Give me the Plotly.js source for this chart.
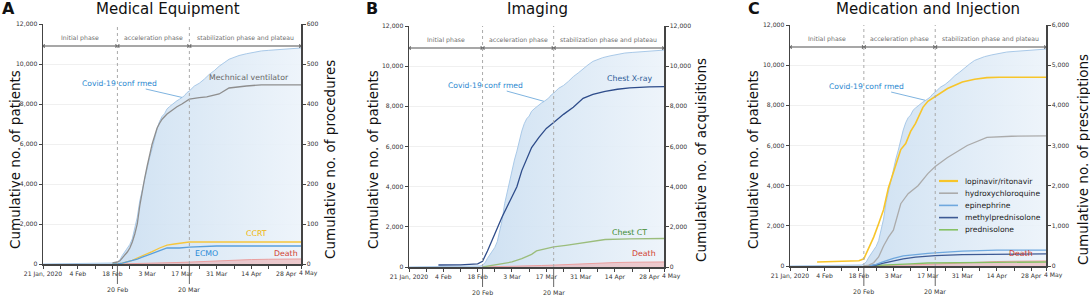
<!DOCTYPE html>
<html>
<head>
<meta charset="utf-8">
<script src="https://cdn.plot.ly/plotly-3.0.1.min.js"></script>
<style>html,body{margin:0;padding:0;background:#fff;}#chart{width:1090px;height:295px;}</style>
</head>
<body>
<div id="chart"></div>
<script>
// ---------------- DATA ----------------
const confirmedDates = ['2020-01-21','2020-02-04','2020-02-18','2020-02-19','2020-02-20','2020-02-21','2020-02-22','2020-02-23','2020-02-24','2020-02-25','2020-02-26','2020-02-27','2020-02-28','2020-02-29','2020-03-01','2020-03-02','2020-03-03','2020-03-04','2020-03-05','2020-03-06','2020-03-07','2020-03-08','2020-03-09','2020-03-10','2020-03-11','2020-03-12','2020-03-13','2020-03-14','2020-03-15','2020-03-16','2020-03-17','2020-03-18','2020-03-19','2020-03-20','2020-03-22','2020-03-24','2020-03-26','2020-03-28','2020-03-30','2020-04-01','2020-04-03','2020-04-05','2020-04-07','2020-04-09','2020-04-12','2020-04-15','2020-04-18','2020-04-21','2020-04-24','2020-04-27','2020-04-30','2020-05-04'];
const confirmedCases = [1,16,31,51,104,204,433,602,833,977,1261,1766,2337,3150,3736,4212,4812,5328,5766,6284,6767,7134,7382,7513,7755,7869,7979,8086,8162,8236,8320,8413,8565,8652,8897,9037,9241,9478,9661,9887,10062,10237,10331,10423,10512,10591,10653,10683,10708,10738,10765,10801];

const deathDates = ['2020-02-20','2020-02-25','2020-03-01','2020-03-05','2020-03-10','2020-03-15','2020-03-20','2020-03-25','2020-03-31','2020-04-07','2020-04-14','2020-04-21','2020-04-28','2020-05-04'];
const deaths = [1,10,17,35,54,75,94,126,162,192,222,237,246,252];

// Panel A (procedures)
const ventDates = ['2020-02-18','2020-02-19','2020-02-20','2020-02-21','2020-02-22','2020-02-23','2020-02-24','2020-02-25','2020-02-26','2020-02-27','2020-02-28','2020-02-29','2020-03-01','2020-03-02','2020-03-03','2020-03-04','2020-03-05','2020-03-06','2020-03-07','2020-03-08','2020-03-09','2020-03-11','2020-03-13','2020-03-15','2020-03-17','2020-03-20','2020-03-24','2020-03-27','2020-04-01','2020-04-05','2020-04-12','2020-04-18','2020-04-28','2020-05-04'];
const ventilator = [3,4,5,8,15,22,30,40,55,75,100,145,185,215,245,275,300,320,340,352,362,375,385,393,400,412,416,418,425,440,445,448,448,448];
const ccrtDates = ['2020-02-18','2020-02-20','2020-02-22','2020-02-24','2020-02-26','2020-02-28','2020-03-01','2020-03-03','2020-03-05','2020-03-08','2020-03-11','2020-03-14','2020-03-16','2020-03-20','2020-03-31','2020-04-14','2020-05-04'];
const ccrt = [0,0,2,5,9,15,20,25,31,40,47,50,52,55,55,55,55];
const ecmoDates = ['2020-02-18','2020-02-20','2020-02-22','2020-02-24','2020-02-26','2020-02-28','2020-03-01','2020-03-03','2020-03-05','2020-03-08','2020-03-11','2020-03-16','2020-03-20','2020-03-31','2020-04-14','2020-05-04'];
const ecmo = [0,0,2,5,8,12,17,22,27,33,40,40,42,45,45,45];

// Panel B (acquisitions)
const xrayDates = ['2020-02-02','2020-02-11','2020-02-18','2020-02-20','2020-02-22','2020-02-24','2020-02-26','2020-02-28','2020-03-01','2020-03-03','2020-03-05','2020-03-07','2020-03-09','2020-03-11','2020-03-14','2020-03-17','2020-03-20','2020-03-24','2020-03-28','2020-04-01','2020-04-05','2020-04-10','2020-04-15','2020-04-20','2020-04-28','2020-05-04'];
const xray = [100,110,160,280,800,1400,1900,2500,3000,3500,4000,4800,5400,5950,6450,6900,7200,7600,7950,8400,8600,8750,8850,8920,8970,8980];
const ctDates = ['2020-02-20','2020-02-24','2020-02-28','2020-03-03','2020-03-07','2020-03-11','2020-03-13','2020-03-16','2020-03-20','2020-03-25','2020-03-31','2020-04-05','2020-04-10','2020-04-20','2020-05-04'];
const chestCT = [0,80,170,250,420,630,800,900,1000,1080,1200,1300,1370,1400,1420];

// Panel C (prescriptions)
const lopDates = ['2020-02-01','2020-02-04','2020-02-11','2020-02-18','2020-02-20','2020-02-22','2020-02-24','2020-02-26','2020-02-28','2020-03-01','2020-03-03','2020-03-05','2020-03-06','2020-03-08','2020-03-10','2020-03-12','2020-03-15','2020-03-17','2020-03-20','2020-03-25','2020-03-31','2020-04-05','2020-04-10','2020-04-15','2020-05-04'];
const lopinavir = [100,105,115,130,180,450,720,1050,1400,1950,2350,2750,2900,3050,3350,3550,3950,4100,4220,4420,4580,4650,4690,4700,4700];
const hcqDates = ['2020-02-20','2020-02-22','2020-02-24','2020-02-26','2020-02-28','2020-03-01','2020-03-03','2020-03-06','2020-03-09','2020-03-13','2020-03-17','2020-03-20','2020-03-25','2020-03-30','2020-04-02','2020-04-10','2020-04-20','2020-05-04'];
const hydroxychloroquine = [0,20,80,225,500,720,890,1550,1800,2000,2300,2475,2700,2900,3000,3200,3230,3240];
const epiDates = ['2020-02-22','2020-02-25','2020-02-28','2020-03-03','2020-03-07','2020-03-12','2020-03-17','2020-03-20','2020-03-31','2020-04-14','2020-05-04'];
const epinephrine = [0,40,110,190,250,290,315,325,370,395,395];
const mpDates = ['2020-02-22','2020-02-25','2020-02-28','2020-03-03','2020-03-07','2020-03-12','2020-03-17','2020-03-20','2020-03-31','2020-04-14','2020-05-04'];
const methylprednisolone = [0,25,70,125,180,220,250,258,285,298,300];
const pdDates = ['2020-02-20','2020-02-25','2020-03-03','2020-03-10','2020-03-17','2020-03-31','2020-04-14','2020-05-04'];
const prednisolone = [0,10,30,55,75,85,95,100];

// Axes / ticks
const xStart = '2020-01-21', xEnd = '2020-05-04';
const xTickVals = ['2020-01-21','2020-01-28','2020-02-04','2020-02-11','2020-02-18','2020-02-25','2020-03-03','2020-03-10','2020-03-17','2020-03-24','2020-03-31','2020-04-07','2020-04-14','2020-04-21','2020-04-28','2020-05-04'];
const xTickText = ['21 Jan, 2020','','4 Feb','','18 Feb','','3 Mar','','17 Mar','','31 Mar','','14 Apr','','28 Apr',''];
const endTickLabel = '4 May';
const phaseBounds = ['2020-02-20','2020-03-20'];
const phaseBoundLabels = ['20 Feb','20 Mar'];
const phaseNames = ['Initial phase','acceleration phase','stabilization phase and plateau'];
const leftTicks = [0,2000,4000,6000,8000,10000,12000];
const rightTicksA = [0,100,200,300,400,500,600];
const rightTicksB = [0,2000,4000,6000,8000,10000,12000];
const rightTicksC = [0,1000,2000,3000,4000,5000,6000];

// ---------------- LAYOUT HELPERS ----------------
const W = 1090, H = 295;
const PX = p => p / W;
const PY = p => 1 - p / H;
const FONT = 'DejaVu Sans, Verdana, sans-serif';
const fmt = v => v.toLocaleString('en-US');

const panels = [
  {x:'x', y:'y', y2:'y2', xa:'xaxis', ya:'yaxis', ya2:'yaxis2', left:43, right:301, top:24, bottom:264,
   rTicks:rightTicksA, rMax:600, letter:'A', letterX:8, title:'Medical Equipment', titleX:168,
   lTitleX:15, rTitleX:330, rTitle:'Cumulative no. of procedures', covX:'2020-02-21', covY:9050, covPt:['2020-03-17',8330]},
  {x:'x2', y:'y3', y2:'y4', xa:'xaxis2', ya:'yaxis3', ya2:'yaxis4', left:409, right:664, top:26, bottom:267,
   rTicks:rightTicksB, rMax:12000, letter:'B', letterX:372, title:'Imaging', titleX:537,
   lTitleX:373, rTitleX:701, rTitle:'Cumulative no. of acquisitions', covX:'2020-02-21', covY:9060, covPt:['2020-03-16',8250]},
  {x:'x3', y:'y5', y2:'y6', xa:'xaxis3', ya:'yaxis5', ya2:'yaxis6', left:790, right:1046, top:25, bottom:266,
   rTicks:rightTicksC, rMax:6000, letter:'C', letterX:754, title:'Medication and Injection', titleX:928,
   lTitleX:753, rTitleX:1083, rTitle:'Cumulative no. of prescriptions', covX:'2020-02-21', covY:8960, covPt:['2020-03-16',8250]}
];

const traces = [];
const layout = {
  width: W, height: H, margin:{l:0,r:0,t:0,b:0},
  paper_bgcolor:'#ffffff', plot_bgcolor:'rgba(0,0,0,0)',
  showlegend:false, font:{family:FONT, color:'#333'},
  shapes:[], annotations:[]
};

function addHours(d, h){ const t = new Date(d+'T00:00:00Z'); t.setUTCHours(t.getUTCHours()+h); return t.toISOString().slice(0,16).replace('T',' '); }
function midDate(a, b){ const ta = Date.parse(a+'T00:00:00Z'), tb = Date.parse(b+'T00:00:00Z'); return new Date((ta+tb)/2).toISOString().slice(0,16).replace('T',' '); }

panels.forEach((p, i) => {
  const tickFont = {family:FONT, size:6.1, color:'#333'};
  layout[p.xa] = {
    domain:[PX(p.left), PX(p.right)], anchor:p.y, type:'date', range:[xStart, xEnd], tickangle:0, automargin:false,
    tickmode:'array', tickvals:xTickVals, ticktext:xTickText, ticks:'outside', ticklen:3, tickwidth:1, tickcolor:'#444',
    showline:true, linecolor:'#444', linewidth:1.5, showgrid:false, zeroline:false, tickfont:tickFont, fixedrange:true
  };
  layout[p.ya] = {
    domain:[PY(p.bottom), PY(p.top)], anchor:p.x, range:[0,12000], automargin:false,
    tickmode:'array', tickvals:leftTicks, ticktext:leftTicks.map(fmt), ticks:'outside', ticklen:3, tickwidth:1, tickcolor:'#444',
    showline:true, linecolor:'#444', linewidth:1.5, showgrid:true, gridcolor:'#f0f0f0', gridwidth:1, zeroline:false, tickfont:tickFont
  };
  layout[p.ya2] = {
    overlaying:p.y, side:'right', anchor:p.x, range:[0,p.rMax], automargin:false,
    tickmode:'array', tickvals:p.rTicks, ticktext:p.rTicks.map(fmt), ticks:'outside', ticklen:3, tickwidth:1, tickcolor:'#444',
    showline:true, linecolor:'#444', linewidth:1.5, showgrid:false, zeroline:false, tickfont:tickFont
  };
  // end-of-axis label (4 May), placed just right of the 28 Apr label
  layout.annotations.push({xref:p.x, yref:'paper', x:xEnd, y:PY(p.bottom+9), text:endTickLabel, showarrow:false,
    font:tickFont, xanchor:'left', yanchor:'middle', xshift:-4});

  // confirmed cases area
  traces.push({
    type:'scatter', mode:'lines', x:confirmedDates, y:confirmedCases, xaxis:p.x, yaxis:p.y,
    line:{color:'#a9c9e8', width:1}, fill:'tozeroy', fillcolor:'rgba(205,223,240,0.8)',
    fillgradient:{type:'horizontal', colorscale:[[0,'rgba(190,214,238,0.95)'],[0.45,'rgba(210,227,243,0.9)'],[1,'rgba(236,243,250,0.9)']]},
    hoverinfo:'skip'
  });
  // deaths area
  traces.push({
    type:'scatter', mode:'lines', x:deathDates, y:deaths, xaxis:p.x, yaxis:p.y,
    line:{color:'#eaa0a0', width:1}, fill:'tozeroy', fillcolor:'rgba(238,150,150,0.45)', hoverinfo:'skip'
  });

  // dashed phase boundaries
  phaseBounds.forEach((d, k) => {
    layout.shapes.push({type:'line', xref:p.x, yref:p.y, x0:d, x1:d, y0:0, y1:12000, line:{color:'#aaaaaa', width:1, dash:'dot'}});
    layout.shapes.push({type:'line', xref:p.x, yref:'paper', x0:d, x1:d, y0:PY(p.bottom+2), y1:PY(p.bottom+20), line:{color:'#666', width:1}});
    layout.annotations.push({xref:p.x, yref:'paper', x:d, y:PY(p.bottom+25), text:phaseBoundLabels[k], showarrow:false,
      font:{family:FONT, size:6.3, color:'#333'}, xanchor:'center', yanchor:'middle', bgcolor:'#ffffff'});
  });
  // phase bar
  layout.shapes.push({type:'line', xref:p.x, yref:p.y, x0:xStart, x1:xEnd, y0:10900, y1:10900, line:{color:'#8a8a8a', width:1.5}});
  const mx = [], ms = [];
  mx.push(addHours(xStart, 8)); ms.push('triangle-left');
  phaseBounds.forEach(d => { mx.push(addHours(d,-10)); ms.push('triangle-right'); mx.push(addHours(d,10)); ms.push('triangle-left'); });
  mx.push(addHours(xEnd, -8)); ms.push('triangle-right');
  traces.push({type:'scatter', mode:'markers', x:mx, y:mx.map(()=>10900), xaxis:p.x, yaxis:p.y,
    marker:{symbol:ms, size:3.5, color:'#222'}, hoverinfo:'skip'});
  const edges = [xStart].concat(phaseBounds, [xEnd]);
  phaseNames.forEach((n, k) => {
    layout.annotations.push({xref:p.x, yref:p.y, x:midDate(edges[k], edges[k+1]), y:11280, text:n, showarrow:false,
      font:{family:FONT, size:6.2, color:'#707070'}, xanchor:'center', yanchor:'middle'});
  });

  // titles & letters
  layout.annotations.push({xref:'paper', yref:'paper', x:PX(p.letterX), y:PY(9), text:'<b>'+p.letter+'</b>', showarrow:false,
    font:{family:FONT, size:16, color:'#111'}, xanchor:'center', yanchor:'middle'});
  layout.annotations.push({xref:'paper', yref:'paper', x:PX(p.titleX), y:PY(9), text:p.title, showarrow:false,
    font:{family:FONT, size:15, color:'#111'}, xanchor:'center', yanchor:'middle'});
  layout.annotations.push({xref:'paper', yref:'paper', x:PX(p.lTitleX), y:PY(160), text:'Cumulative no. of patients', textangle:-90, showarrow:false,
    font:{family:FONT, size:13.5, color:'#111'}, xanchor:'center', yanchor:'middle'});
  layout.annotations.push({xref:'paper', yref:'paper', x:PX(p.rTitleX), y:PY(160), text:p.rTitle, textangle:-90, showarrow:false,
    font:{family:FONT, size:13.5, color:'#111'}, xanchor:'center', yanchor:'middle'});

  // covid annotation with leader line
  layout.annotations.push({xref:p.x, yref:p.y, x:p.covPt[0], y:p.covPt[1], axref:p.x, ayref:p.y, ax:p.covX, ay:p.covY,
    text:'Covid-19 conf rmed', showarrow:true, arrowhead:0, arrowwidth:1, arrowcolor:'#7fb4e0',
    font:{family:FONT, size:7.6, color:'#2a88cf'}, standoff:0, startstandoff:0});
});

// ---- Panel A series ----
const lw = 1.3;
traces.push({type:'scatter', mode:'lines', x:ventDates, y:ventilator, xaxis:'x', yaxis:'y2', line:{color:'#8e8e8e', width:lw}});
traces.push({type:'scatter', mode:'lines', x:ccrtDates, y:ccrt, xaxis:'x', yaxis:'y2', line:{color:'#f6c63c', width:lw}});
traces.push({type:'scatter', mode:'lines', x:ecmoDates, y:ecmo, xaxis:'x', yaxis:'y2', line:{color:'#5a9fdb', width:lw}});
const labA = [
  ['Mechnical ventilator','2020-04-13',9330,'#666'],
  ['CCRT','2020-04-16',1520,'#f0b400'],
  ['ECMO','2020-03-27',520,'#2a8ad6'],
  ['Death','2020-04-28',520,'#d13a2c']
];
labA.forEach(l => layout.annotations.push({xref:'x', yref:'y', x:l[1], y:l[2], text:l[0], showarrow:false,
  font:{family:FONT, size:7.8, color:l[3]}, xanchor:'center', yanchor:'middle'}));

// ---- Panel B series ----
traces.push({type:'scatter', mode:'lines', x:ctDates, y:chestCT, xaxis:'x2', yaxis:'y4', line:{color:'#9bbd7c', width:lw}});
traces.push({type:'scatter', mode:'lines', x:xrayDates, y:xray, xaxis:'x2', yaxis:'y4', line:{color:'#2e4c8a', width:lw}});
const labB = [
  ['Chest X-ray','2020-04-20',9400,'#2b5a96'],
  ['Chest CT','2020-04-20',1740,'#3a8a2c'],
  ['Death','2020-04-26',650,'#d13a2c']
];
labB.forEach(l => layout.annotations.push({xref:'x2', yref:'y3', x:l[1], y:l[2], text:l[0], showarrow:false,
  font:{family:FONT, size:7.8, color:l[3]}, xanchor:'center', yanchor:'middle'}));

// ---- Panel C series ----
const seriesC = [
  {name:'lopinavir/ritonavir', x:lopDates, y:lopinavir, color:'#f7c52a', w:1.6},
  {name:'hydroxychloroquine', x:hcqDates, y:hydroxychloroquine, color:'#ababab', w:lw},
  {name:'epinephrine', x:epiDates, y:epinephrine, color:'#6fa8de', w:lw},
  {name:'methylprednisolone', x:mpDates, y:methylprednisolone, color:'#3d5a94', w:lw},
  {name:'prednisolone', x:pdDates, y:prednisolone, color:'#86c164', w:lw}
];
seriesC.slice().reverse().forEach(s => traces.push({type:'scatter', mode:'lines', x:s.x, y:s.y, xaxis:'x3', yaxis:'y6', name:s.name,
  line:{color:s.color, width:s.w}}));
layout.annotations.push({xref:'x3', yref:'y5', x:'2020-04-24', y:600, text:'Death', showarrow:false,
  font:{family:FONT, size:7.8, color:'#d13a2c'}, xanchor:'center', yanchor:'middle'});
// manual legend for panel C
seriesC.forEach((s, k) => {
  const yy = 181 + k*12.2;
  layout.shapes.push({type:'line', xref:'paper', yref:'paper', x0:PX(939), x1:PX(958), y0:PY(yy), y1:PY(yy),
    line:{color:s.color, width: k===0 ? 2.2 : 1.6}});
  layout.annotations.push({xref:'paper', yref:'paper', x:PX(963), y:PY(yy), text:s.name, showarrow:false,
    font:{family:FONT, size:7.6, color:'#222'}, xanchor:'left', yanchor:'middle'});
});

Plotly.newPlot('chart', traces, layout, {staticPlot:true, displayModeBar:false});
</script>
</body>
</html>
